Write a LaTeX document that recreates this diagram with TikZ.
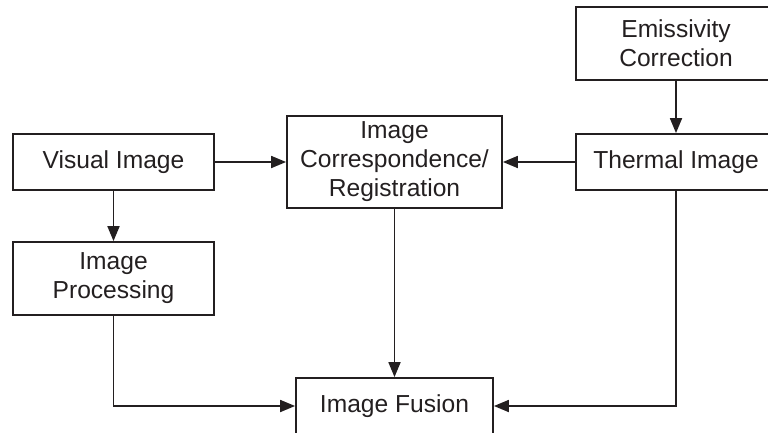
\documentclass[tikz,border=0pt]{standalone}
\usepackage{fontspec}
\setmainfont{Liberation Sans}
\usetikzlibrary{arrows.meta}
\definecolor{ink}{HTML}{231F20}
\begin{document}
\begin{tikzpicture}[x=1pt,y=-1pt,
  box/.style={draw=ink, line width=1.8pt, align=center, inner sep=0pt,
    text=ink, font=\fontsize{24.6}{29}\selectfont},
  conn/.style={draw=ink, line width=1.8pt,
    -{Triangle[length=15pt,width=12pt]}}]
  \useasboundingbox (0,0) rectangle (768,432);
  % blocks
  \node[box, minimum width=200pt, minimum height=73pt] (emis) at (676,43.5) {Emissivity\\Correction};
  \node[box, minimum width=201pt, minimum height=56pt] (vis) at (113.5,162) {Visual Image};
  \node[box, minimum width=200pt, minimum height=56pt] (therm) at (676,162) {Thermal Image};
  \node[box, minimum width=215pt, minimum height=92pt] (corr) at (394.5,162) {Image\\Correspondence/\\Registration};
  \node[box, minimum width=201pt, minimum height=73pt] (proc) at (113.5,278.5) {Image\\Processing};
  \node[box, minimum width=197pt, minimum height=56pt] (fus) at (394.5,406) {Image Fusion};
  % connectors
  \draw[conn] (emis) -- (therm);
  \draw[conn] (vis) -- (corr);
  \draw[conn] (therm) -- (corr);
  \draw[conn] (vis) -- (proc);
  \draw[conn] (corr) -- (fus);
  \draw[conn] (proc.south) |- (fus.west);
  \draw[conn] (therm.south) |- (fus.east);
\end{tikzpicture}
\end{document}
